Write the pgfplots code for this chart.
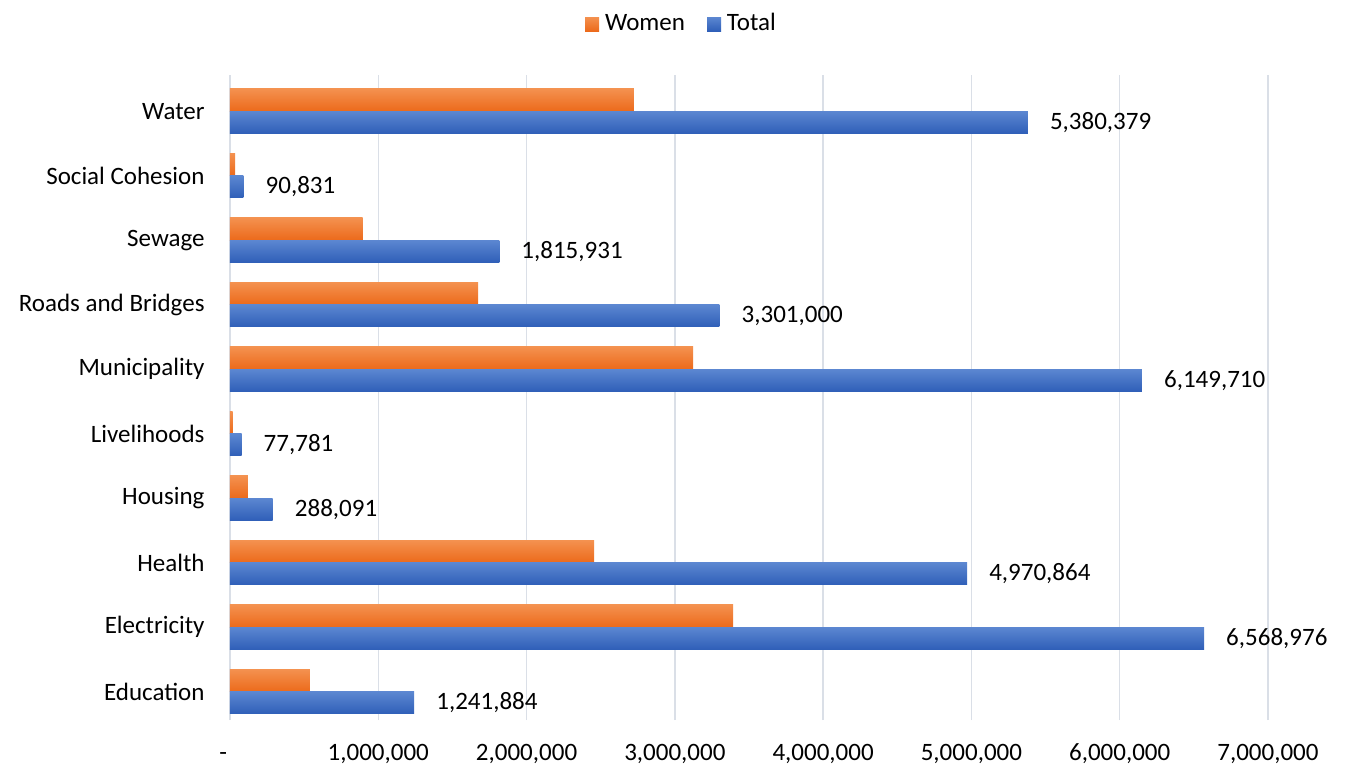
\documentclass[border=0pt]{standalone}
\usepackage{pgfplots}
\pgfplotsset{compat=1.18}
\usepackage{fontspec}
\setmainfont{Carlito}
\definecolor{orTop}{HTML}{F4914F}
\definecolor{orBot}{HTML}{EC6A1B}
\definecolor{blTop}{HTML}{5C87D1}
\definecolor{blBot}{HTML}{2F5FB8}
\definecolor{gridc}{HTML}{DADFE7}
\begin{document}
\fontsize{25bp}{30bp}\selectfont
\begin{tikzpicture}
\path[use as bounding box] (-230bp,-50bp) rectangle (1117bp,720bp);
\begin{axis}[
  at={(0,0)}, anchor=south west,
  scale only axis,
  width=1038bp, height=645bp,
  xmin=0, xmax=7000000,
  ymin=-0.44, ymax=9.56,
  xbar, bar width=0.345,
  axis line style={draw=none},
  tick style={draw=none},
  xmajorgrids, grid style={gridc, line width=1.5bp},
  xtick={0,1000000,2000000,3000000,4000000,5000000,6000000,7000000},
  xticklabels={{\llap{-\kern3bp}},{1,000,000},{2,000,000},{3,000,000},{4,000,000},{5,000,000},{6,000,000},{7,000,000}},
  xticklabel style={anchor=base, yshift=-40bp, inner sep=0pt},
  ytick={0,...,9},
  yticklabels={Education,Electricity,Health,Housing,Livelihoods,Municipality,Roads and Bridges,Sewage,Social Cohesion,Water},
  yticklabel style={anchor=east, inner sep=0pt, xshift=-21bp},
  scaled x ticks=false,
  legend style={at={(0.435,1.079)}, anchor=center, draw=none, fill=none,
    legend columns=2, font=\fontsize{25bp}{30bp}\selectfont,
    /tikz/every odd column/.append style={column sep=4bp},
    /tikz/every even column/.append style={column sep=20bp}},
  legend image code/.code={\path[#1] (0bp,-7bp) rectangle (14bp,7bp);},
  orbar/.style={draw=none, top color=orTop, bottom color=orBot, bar shift=0.1725},
  blbar/.style={draw=none, top color=blTop, bottom color=blBot, bar shift=-0.1725,
    point meta=explicit symbolic, nodes near coords,
    nodes near coords style={anchor=west, inner sep=0pt, xshift=22bp, text=black,
      top color=white, bottom color=white, fill=none, shade=false,
      font=\fontsize{25bp}{30bp}\selectfont}},
]
% Education
\addplot[orbar] coordinates {(538000,0)};
\addlegendentry{Women}
\addplot[blbar] coordinates {(1241884,0) [1,241,884]};
\addlegendentry{Total}
% Electricity
\addplot[orbar, forget plot] coordinates {(3393000,1)};
\addplot[blbar, forget plot] coordinates {(6568976,1) [6,568,976]};
% Health
\addplot[orbar, forget plot] coordinates {(2455000,2)};
\addplot[blbar, forget plot] coordinates {(4970864,2) [4,970,864]};
% Housing
\addplot[orbar, forget plot] coordinates {(120000,3)};
\addplot[blbar, forget plot] coordinates {(288091,3) [288,091]};
% Livelihoods
\addplot[orbar, forget plot] coordinates {(18000,4)};
\addplot[blbar, forget plot] coordinates {(77781,4) [77,781]};
% Municipality
\addplot[orbar, forget plot] coordinates {(3124000,5)};
\addplot[blbar, forget plot] coordinates {(6149710,5) [6,149,710]};
% Roads and Bridges
\addplot[orbar, forget plot] coordinates {(1673000,6)};
\addplot[blbar, forget plot] coordinates {(3301000,6) [3,301,000]};
% Sewage
\addplot[orbar, forget plot] coordinates {(895000,7)};
\addplot[blbar, forget plot] coordinates {(1815931,7) [1,815,931]};
% Social Cohesion
\addplot[orbar, forget plot] coordinates {(34000,8)};
\addplot[blbar, forget plot] coordinates {(90831,8) [90,831]};
% Water
\addplot[orbar, forget plot] coordinates {(2724000,9)};
\addplot[blbar, forget plot] coordinates {(5380379,9) [5,380,379]};
\end{axis}
\end{tikzpicture}
\end{document}
